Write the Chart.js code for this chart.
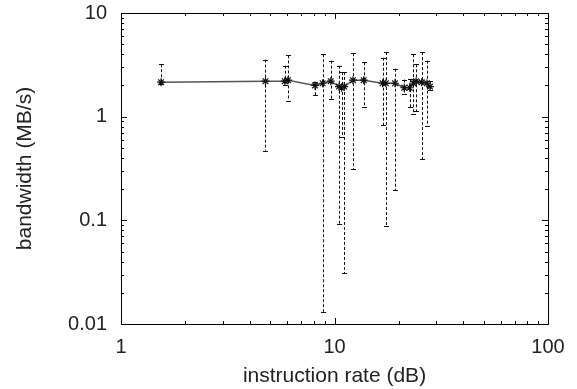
<!DOCTYPE html>
<html lang="en">
<head>
  <meta charset="UTF-8">
  <title>bandwidth vs instruction rate</title>
  <script src="https://cdn.jsdelivr.net/npm/chart.js"></script>
  <style>
    html, body { margin: 0; padding: 0; background: #fff; }
    #wrap { width: 577px; height: 389px; }
  </style>
</head>
<body>
  <div id="wrap"><canvas id="chart"></canvas></div>

  <script>
    // data
    var rate      = [1.54, 4.75, 5.85, 6.05, 8.1, 8.8, 9.6, 10.5, 10.8, 11.1, 12.2, 13.7, 16.8, 17.4, 19.2, 21.2, 22.5, 23.4, 24.1, 25.6, 27.1, 28.0];
    var bandwidth = [2.15, 2.2, 2.2, 2.25, 2.0, 2.1, 2.2, 1.95, 1.9, 1.95, 2.25, 2.25, 2.1, 2.1, 2.1, 1.9, 1.9, 2.1, 2.2, 2.15, 2.1, 1.95];
    var errLow    = [2.05, 0.47, 2.0, 1.43, 1.62, 0.0131, 1.49, 0.093, 0.64, 0.031, 0.31, 1.25, 0.83, 0.089, 0.195, 1.64, 1.23, 1.07, 1.13, 0.39, 0.82, 1.8];
    var errHigh   = [3.2, 3.55, 3.1, 3.9, 2.15, 4.0, 3.47, 3.1, 2.7, 2.7, 4.1, 3.35, 3.7, 4.2, 2.9, 2.28, 2.3, 4.0, 3.2, 4.2, 3.47, 2.2];

    var xTicks = [1, 2, 3, 4, 5, 6, 7, 8, 9, 10, 20, 30, 40, 50, 60, 70, 80, 90, 100];
    var yTicks = [0.01, 0.02, 0.03, 0.04, 0.05, 0.06, 0.07, 0.08, 0.09, 0.1, 0.2, 0.3, 0.4, 0.5, 0.6, 0.7, 0.8, 0.9, 1, 2, 3, 4, 5, 6, 7, 8, 9, 10];
    var xLabels = [1, 10, 100];
    var yLabels = [0.01, 0.1, 1, 10];

    var points = rate.map(function (x, i) { return { x: x, y: bandwidth[i] }; });

    function isMajor(v, list) {
      return list.some(function (m) { return Math.abs(v - m) < m * 1e-6; });
    }

    // dashed error bars with small caps
    var errorBars = {
      id: 'errorBars',
      afterDatasetsDraw: function (chart) {
        var ctx = chart.ctx, xs = chart.scales.x, ys = chart.scales.y;
        ctx.save();
        ctx.strokeStyle = '#111';
        ctx.lineWidth = 1;
        for (var i = 0; i < rate.length; i++) {
          var px = Math.round(xs.getPixelForValue(rate[i])) + 0.5;
          var top = ys.getPixelForValue(errHigh[i]);
          var bot = ys.getPixelForValue(errLow[i]);
          ctx.setLineDash([3, 2]);
          ctx.beginPath();
          ctx.moveTo(px, top);
          ctx.lineTo(px, bot);
          ctx.stroke();
          ctx.setLineDash([]);
          ctx.beginPath();
          ctx.moveTo(px - 2.5, Math.round(top) + 0.5);
          ctx.lineTo(px + 2.5, Math.round(top) + 0.5);
          ctx.moveTo(px - 2.5, Math.round(bot) + 0.5);
          ctx.lineTo(px + 2.5, Math.round(bot) + 0.5);
          ctx.stroke();
        }
        ctx.restore();
      }
    };

    // frame and inward ticks on all four sides
    var frame = {
      id: 'frame',
      afterDraw: function (chart) {
        var ctx = chart.ctx, a = chart.chartArea, xs = chart.scales.x, ys = chart.scales.y;
        ctx.save();
        ctx.strokeStyle = '#000';
        ctx.lineWidth = 1;
        ctx.strokeRect(Math.round(a.left) + 0.5, Math.round(a.top) + 0.5,
                       Math.round(a.right - a.left), Math.round(a.bottom - a.top));
        ctx.beginPath();
        xTicks.forEach(function (v) {
          var p = Math.round(xs.getPixelForValue(v)) + 0.5;
          var len = isMajor(v, xLabels) ? 6 : 3;
          ctx.moveTo(p, a.bottom); ctx.lineTo(p, a.bottom - len);
          ctx.moveTo(p, a.top); ctx.lineTo(p, a.top + len);
        });
        yTicks.forEach(function (v) {
          var p = Math.round(ys.getPixelForValue(v)) + 0.5;
          var len = isMajor(v, yLabels) ? 6 : 3;
          ctx.moveTo(a.left, p); ctx.lineTo(a.left + len, p);
          ctx.moveTo(a.right, p); ctx.lineTo(a.right - len, p);
        });
        ctx.stroke();
        ctx.restore();
      }
    };

    var font = { family: '"Liberation Sans", Arial, sans-serif', size: 20 };
    var titleFont = { family: '"Liberation Sans", Arial, sans-serif', size: 21 };

    new Chart(document.getElementById('chart'), {
      type: 'scatter',
      data: {
        datasets: [{
          data: points,
          showLine: true,
          borderColor: '#555',
          borderWidth: 1.5,
          pointStyle: 'star',
          pointRadius: 4,
          pointBorderColor: '#111',
          pointBorderWidth: 1.2,
          pointBackgroundColor: '#111'
        }]
      },
      plugins: [errorBars, frame],
      options: {
        responsive: true,
        maintainAspectRatio: false,
        animation: false,
        layout: { padding: { top: 13, right: 29, left: 0, bottom: 0 } },
        plugins: {
          legend: { display: false },
          tooltip: { enabled: false }
        },
        scales: {
          x: {
            type: 'logarithmic',
            min: 1,
            max: 100,
            afterBuildTicks: function (scale) {
              scale.ticks = xTicks.map(function (v) { return { value: v }; });
            },
            afterFit: function (scale) {
              scale.height = 65;
              scale.paddingLeft = 0;
              scale.paddingRight = 0;
            },
            grid: { display: false, drawTicks: false },
            border: { display: false },
            ticks: {
              autoSkip: false,
              maxRotation: 0,
              padding: 11,
              color: '#222',
              font: font,
              callback: function (v) { return isMajor(v, xLabels) ? String(v) : ''; }
            },
            title: {
              display: true,
              text: 'instruction rate (dB)',
              color: '#222',
              font: titleFont,
              padding: { top: 0, bottom: 0 }
            }
          },
          y: {
            type: 'logarithmic',
            min: 0.01,
            max: 10,
            afterBuildTicks: function (scale) {
              scale.ticks = yTicks.map(function (v) { return { value: v }; });
            },
            afterFit: function (scale) {
              scale.width = 121;
              scale.paddingTop = 0;
              scale.paddingBottom = 0;
            },
            grid: { display: false, drawTicks: false },
            border: { display: false },
            ticks: {
              autoSkip: false,
              padding: 14,
              color: '#222',
              font: font,
              callback: function (v) { return isMajor(v, yLabels) ? String(v) : ''; }
            },
            title: {
              display: true,
              text: 'bandwidth (MB/s)',
              color: '#222',
              font: titleFont,
              padding: { top: 13, bottom: 0 }
            }
          }
        }
      }
    });
  </script>
</body>
</html>
